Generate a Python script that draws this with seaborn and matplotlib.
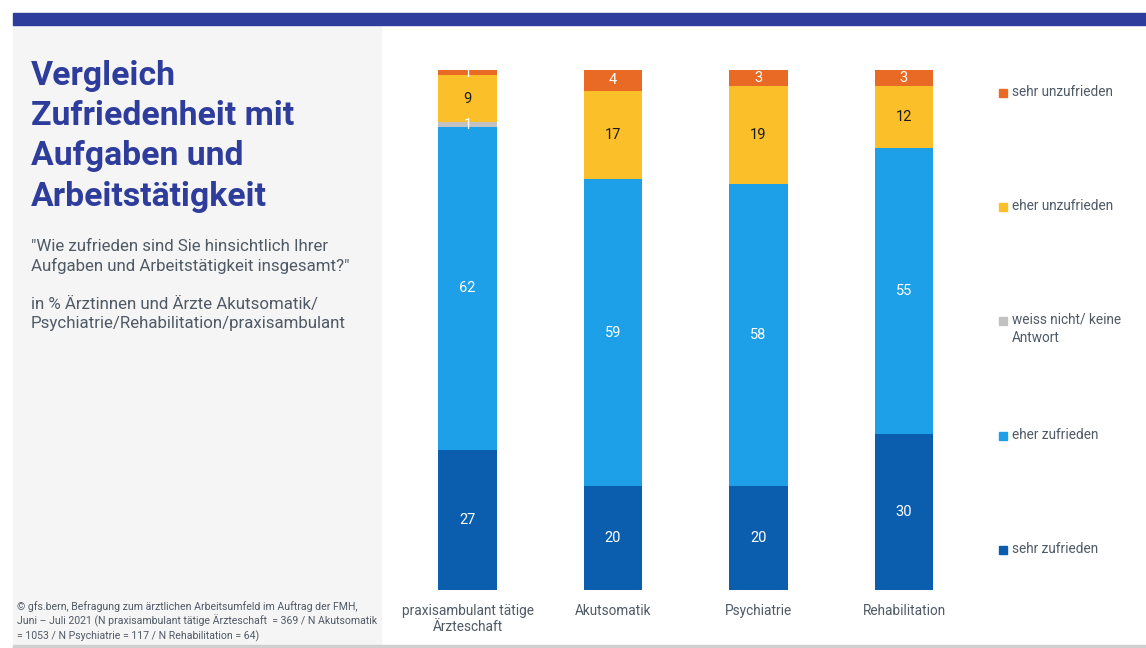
import matplotlib
matplotlib.use("Agg")
import matplotlib.pyplot as plt
from matplotlib.patches import Rectangle
import numpy as np
import pandas as pd
import seaborn as sns

# --- data -------------------------------------------------------------
categories = ["praxisambulant tätige\nÄrzteschaft", "Akutsomatik", "Psychiatrie", "Rehabilitation"]
segments = ["sehr zufrieden", "eher zufrieden", "weiss nicht/ keine\nAntwort",
            "eher unzufrieden", "sehr unzufrieden"]
sehr_zufrieden = [27, 20, 20, 30]
eher_zufrieden = [62, 59, 58, 55]
weiss_nicht = [1, 0, 0, 0]
eher_unzufrieden = [9, 17, 19, 12]
sehr_unzufrieden = [1, 4, 3, 3]

colors = ["#0B5EAD", "#1EA0E8", "#C2C2C2", "#FBBF2A", "#E96A24"]
label_colors = ["white", "white", "white", "#1a1a1a", "white"]

values = np.array([sehr_zufrieden, eher_zufrieden, weiss_nicht,
                   eher_unzufrieden, sehr_unzufrieden], dtype=float)
cum = values.cumsum(axis=0)

NAVY = "#2E3D9C"
GREY_TXT = "#4F5A66"
FONT = "Roboto"

sns.set_theme(style="white")
plt.rcParams["font.family"] = [FONT, "DejaVu Sans"]

W, H = 1146, 648
fig = plt.figure(figsize=(W / 100, H / 100), dpi=100)
fig.patch.set_facecolor("white")

def fx(px):
    return px / W

def fy(py):
    return 1 - py / H

# side panel, header bar and bottom rule
fig.patches.append(Rectangle((fx(13), fy(645)), fx(368), fy(25) - fy(645),
                             transform=fig.transFigure, color="#F5F5F5", zorder=0))
fig.patches.append(Rectangle((fx(13), fy(25)), fx(1133), fy(13) - fy(25),
                             transform=fig.transFigure, color=NAVY, zorder=1))
fig.patches.append(Rectangle((fx(13), fy(648)), fx(1133), fy(645) - fy(648),
                             transform=fig.transFigure, color="#CFCFCF", zorder=1))

# --- stacked bars (cumulative totals drawn from the top layer down) -----
ax = fig.add_axes([fx(394.75), fy(590), fx(582), fy(70) - fy(590)])
ax.set_facecolor("none")
for i in range(len(segments) - 1, -1, -1):
    df = pd.DataFrame({"cat": categories, "val": cum[i]})
    sns.barplot(data=df, x="cat", y="val", order=categories, color=colors[i],
                saturation=1, width=0.405, ax=ax, errorbar=None,
                linewidth=0, zorder=2 + (5 - i))

for i in range(len(segments)):
    for j in range(len(categories)):
        v = values[i, j]
        if v <= 0:
            continue
        ymid = cum[i, j] - v / 2
        ax.text(j, ymid, f"{int(v)}", ha="center", va="center",
                color=label_colors[i], fontsize=10.5, zorder=20)

ax.set_xlim(-0.5, 3.5)
ax.set_ylim(0, 100)
ax.set_xlabel("")
ax.set_ylabel("")
ax.set_yticks([])
ax.tick_params(axis="x", length=0, pad=10, labelsize=9.8, labelcolor=GREY_TXT)
for s in ax.spines.values():
    s.set_visible(False)

# --- legend -----------------------------------------------------------
leg_y = [550, 436, 321, 207, 93]
for i, seg in enumerate(segments):
    y = leg_y[i]
    fig.patches.append(Rectangle((fx(999), fy(y + 4)), fx(8), fy(y - 4) - fy(y + 4),
                                 transform=fig.transFigure, color=colors[i], zorder=3))
    fig.text(fx(1012), fy(y - 8), seg, ha="left", va="top", fontsize=9.8,
             color=GREY_TXT, linespacing=1.35)

# --- texts in side panel ----------------------------------------------
fig.text(fx(31), fy(60), "Vergleich\nZufriedenheit mit\nAufgaben und\nArbeitstätigkeit",
         ha="left", va="top", fontsize=24.3, fontweight="bold", color=NAVY,
         linespacing=1.33)
fig.text(fx(31), fy(239),
         "\"Wie zufrieden sind Sie hinsichtlich Ihrer\nAufgaben und Arbeitstätigkeit insgesamt?\"",
         ha="left", va="top", fontsize=12.2, color=GREY_TXT, linespacing=1.3)
fig.text(fx(31), fy(297),
         "in % Ärztinnen und Ärzte Akutsomatik/\nPsychiatrie/Rehabilitation/praxisambulant",
         ha="left", va="top", fontsize=12.2, color=GREY_TXT, linespacing=1.3)
fig.text(fx(17), fy(601),
         "© gfs.bern, Befragung zum ärztlichen Arbeitsumfeld im Auftrag der FMH,\n"
         "Juni – Juli 2021 (N praxisambulant tätige Ärzteschaft  = 369 / N Akutsomatik\n"
         "= 1053 / N Psychiatrie = 117 / N Rehabilitation = 64)",
         ha="left", va="top", fontsize=7.6, color=GREY_TXT, linespacing=1.3)

fig.savefig("out.png", dpi=100)
